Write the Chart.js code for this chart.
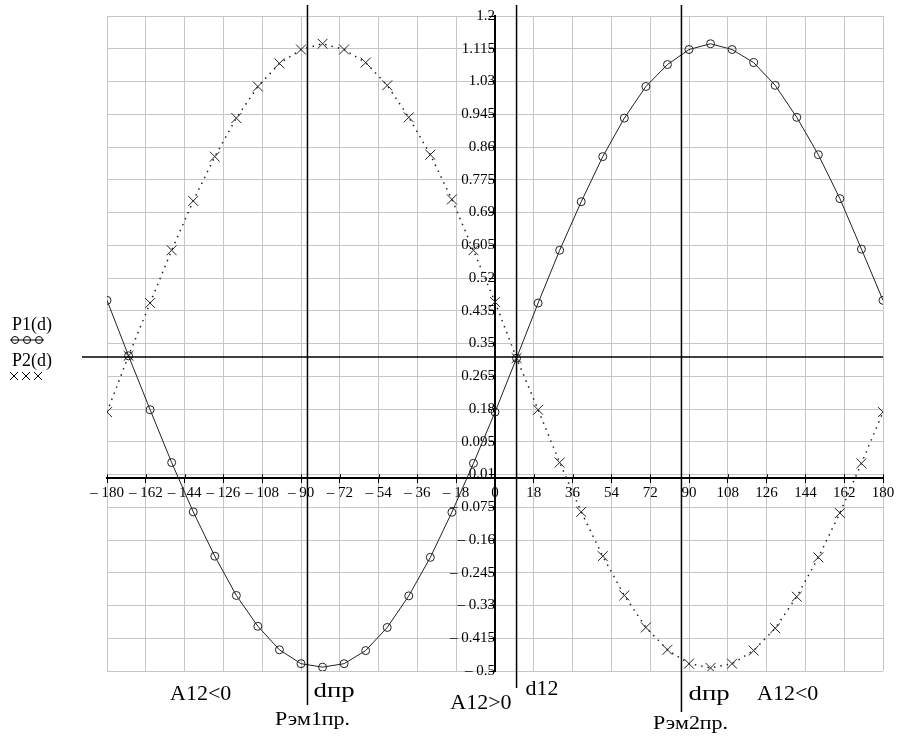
<!DOCTYPE html>
<html>
<head>
<meta charset="utf-8">
<title>P1(d), P2(d)</title>
<script src="https://cdn.jsdelivr.net/npm/chart.js@4.4.1/dist/chart.umd.min.js"></script>
<style>
  html, body { margin: 0; padding: 0; background: #fff; }
  #wrap { width: 900px; height: 740px; position: relative; }
</style>
</head>
<body>
<div id="wrap"><canvas id="chart"></canvas></div>
<script>
// load angle d, degrees (one point every 10 deg)
const angles = [-180, -170, -160, -150, -140, -130, -120, -110, -100, -90, -80, -70, -60, -50, -40, -30, -20, -10,
  0, 10, 20, 30, 40, 50, 60, 70, 80, 90, 100, 110, 120, 130, 140, 150, 160, 170, 180];

// P1(d) - solid line, circles
const p1Values = [0.462, 0.318, 0.178, 0.041, -0.087, -0.202, -0.304, -0.384, -0.445, -0.481, -0.490, -0.481, -0.447,
  -0.387, -0.305, -0.205, -0.088, 0.039, 0.172, 0.312, 0.455, 0.592, 0.718, 0.835, 0.935, 1.017, 1.074, 1.113,
  1.128, 1.113, 1.079, 1.020, 0.937, 0.840, 0.726, 0.595, 0.462];

// P2(d) - dotted line, crosses
const p2Values = [0.172, 0.318, 0.455, 0.592, 0.720, 0.835, 0.935, 1.017, 1.077, 1.113, 1.128, 1.113, 1.079, 1.020,
  0.937, 0.840, 0.724, 0.592, 0.458, 0.312, 0.178, 0.041, -0.087, -0.202, -0.304, -0.387, -0.445, -0.481, -0.492,
  -0.481, -0.447, -0.389, -0.307, -0.205, -0.090, 0.039, 0.172];

const xTickValues = [-180, -162, -144, -126, -108, -90, -72, -54, -36, -18, 0, 18, 36, 54, 72, 90, 108, 126, 144, 162, 180];
const xTickLabels = ['– 180', '– 162', '– 144', '– 126', '– 108', '– 90', '– 72', '– 54', '– 36', '– 18', '0',
  '18', '36', '54', '72', '90', '108', '126', '144', '162', '180'];

const yTickValues = [-0.5, -0.415, -0.33, -0.245, -0.16, -0.075, 0.01, 0.095, 0.18, 0.265, 0.35, 0.435, 0.52,
  0.605, 0.69, 0.775, 0.86, 0.945, 1.03, 1.115, 1.2];
const yTickLabels = ['– 0.5', '– 0.415', '– 0.33', '– 0.245', '– 0.16', '– 0.075', '0.01', '0.095', '0.18', '0.265',
  '0.35', '0.435', '0.52', '0.605', '0.69', '0.775', '0.86', '0.945', '1.03', '1.115', '1.2'];

// horizontal line through the crossing points and the marked angles
const crossLevel = 0.315;
const markerAngles = [-87, 10, 86.5];

const serif = "'Liberation Serif', 'Times New Roman', serif";
const gridColor = '#c6c6c6';

// cyrillic captions are a bit wider in the original, stretch them horizontally
function wideText(ctx, text, x, y, stretch) {
  ctx.save();
  ctx.translate(x, y);
  ctx.scale(stretch, 1);
  ctx.fillText(text, 0, 0);
  ctx.restore();
}

// vertical marker lines, horizontal level line and the captions under the plot
const annotations = {
  id: 'annotations',
  afterDatasetsDraw(chart) {
    const { ctx, chartArea, scales: { x, y } } = chart;
    ctx.save();
    ctx.strokeStyle = '#000';

    // tick marks above the x axis too (Chart.js only draws them below)
    ctx.lineWidth = 1;
    const y0 = y.getPixelForValue(0);
    xTickValues.forEach((v) => {
      const p = Math.round(x.getPixelForValue(v)) + 0.5;
      ctx.beginPath();
      ctx.moveTo(p, y0 - 4);
      ctx.lineTo(p, y0);
      ctx.stroke();
    });

    ctx.lineWidth = 1.5;
    const yc = y.getPixelForValue(crossLevel);
    ctx.beginPath();
    ctx.moveTo(chartArea.left - 25, yc);
    ctx.lineTo(chartArea.right, yc);
    ctx.stroke();

    const drops = [34, 17, 41];
    const px = markerAngles.map((d) => x.getPixelForValue(d));
    px.forEach((p, i) => {
      ctx.beginPath();
      ctx.moveTo(p, chartArea.top - 11);
      ctx.lineTo(p, chartArea.bottom + drops[i]);
      ctx.stroke();
    });

    ctx.fillStyle = '#000';
    ctx.textBaseline = 'alphabetic';
    ctx.textAlign = 'left';
    ctx.font = '22px ' + serif;
    ctx.fillText('A12<0', 170, 700);
    ctx.fillText('d12', px[1] + 9, 695);
    ctx.fillText('A12<0', 757, 700);
    ctx.textAlign = 'right';
    ctx.fillText('A12>0', px[1] - 5, 709);
    ctx.textAlign = 'left';
    wideText(ctx, 'dпр', px[0] + 6, 697, 1.22);
    wideText(ctx, 'dпр', px[2] + 7, 700, 1.22);
    ctx.font = '18px ' + serif;
    wideText(ctx, 'Рэм1пр.', 275, 725, 1.22);
    wideText(ctx, 'Рэм2пр.', 653, 729, 1.22);

    // legend at the left
    ctx.font = '18px ' + serif;
    ctx.fillText('P1(d)', 12, 330);
    ctx.fillText('P2(d)', 12, 366);
    ctx.lineWidth = 1;
    ctx.beginPath();
    ctx.moveTo(10, 340);
    ctx.lineTo(44, 340);
    ctx.stroke();
    [15, 27, 39].forEach((cx) => {
      ctx.beginPath();
      ctx.arc(cx, 340, 3.5, 0, Math.PI * 2);
      ctx.stroke();
    });
    [14, 26, 38].forEach((cx) => {
      ctx.beginPath();
      ctx.moveTo(cx - 4, 372);
      ctx.lineTo(cx + 4, 380);
      ctx.moveTo(cx - 4, 380);
      ctx.lineTo(cx + 4, 372);
      ctx.stroke();
    });
    ctx.restore();
  }
};

new Chart(document.getElementById('chart'), {
  type: 'line',
  data: {
    labels: angles,
    datasets: [
      {
        label: 'P1(d)',
        data: angles.map((d, i) => ({ x: d, y: p1Values[i] })),
        borderColor: '#222',
        borderWidth: 1,
        pointStyle: 'circle',
        pointRadius: 4,
        pointBorderWidth: 1,
        pointBorderColor: '#222',
        pointBackgroundColor: 'rgba(0,0,0,0)',
        tension: 0,
      },
      {
        label: 'P2(d)',
        data: angles.map((d, i) => ({ x: d, y: p2Values[i] })),
        borderColor: '#222',
        borderWidth: 1.5,
        borderDash: [1.5, 5],
        pointStyle: 'crossRot',
        pointRadius: 7,
        pointBorderWidth: 1,
        pointBorderColor: '#222',
        tension: 0,
      },
    ],
  },
  options: {
    responsive: true,
    maintainAspectRatio: false,
    animation: false,
    layout: { padding: { left: 107, right: 17, top: 16, bottom: 69 } },
    plugins: {
      legend: { display: false },
      tooltip: { enabled: false },
    },
    scales: {
      x: {
        type: 'linear',
        min: -180,
        max: 180,
        position: { y: 0 },
        afterBuildTicks: (axis) => { axis.ticks = xTickValues.map((v) => ({ value: v })); },
        grid: { color: gridColor, lineWidth: 1, tickLength: 4, tickColor: '#000' },
        border: { color: '#000', width: 2 },
        ticks: {
          autoSkip: false, maxRotation: 0, minRotation: 0, padding: 2, color: '#000',
          font: { family: serif, size: 15 },
          callback: (value, index) => xTickLabels[index],
        },
      },
      y: {
        type: 'linear',
        min: -0.5,
        max: 1.2,
        position: { x: 0 },
        afterBuildTicks: (axis) => { axis.ticks = yTickValues.map((v) => ({ value: v })); },
        grid: { color: gridColor, lineWidth: 1, tickLength: 5, tickColor: '#000' },
        border: { color: '#000', width: 2 },
        ticks: {
          autoSkip: false, padding: 0, color: '#000',
          font: { family: serif, size: 15 },
          callback: (value, index) => yTickLabels[index],
        },
      },
    },
  },
  plugins: [annotations],
});
</script>
</body>
</html>
